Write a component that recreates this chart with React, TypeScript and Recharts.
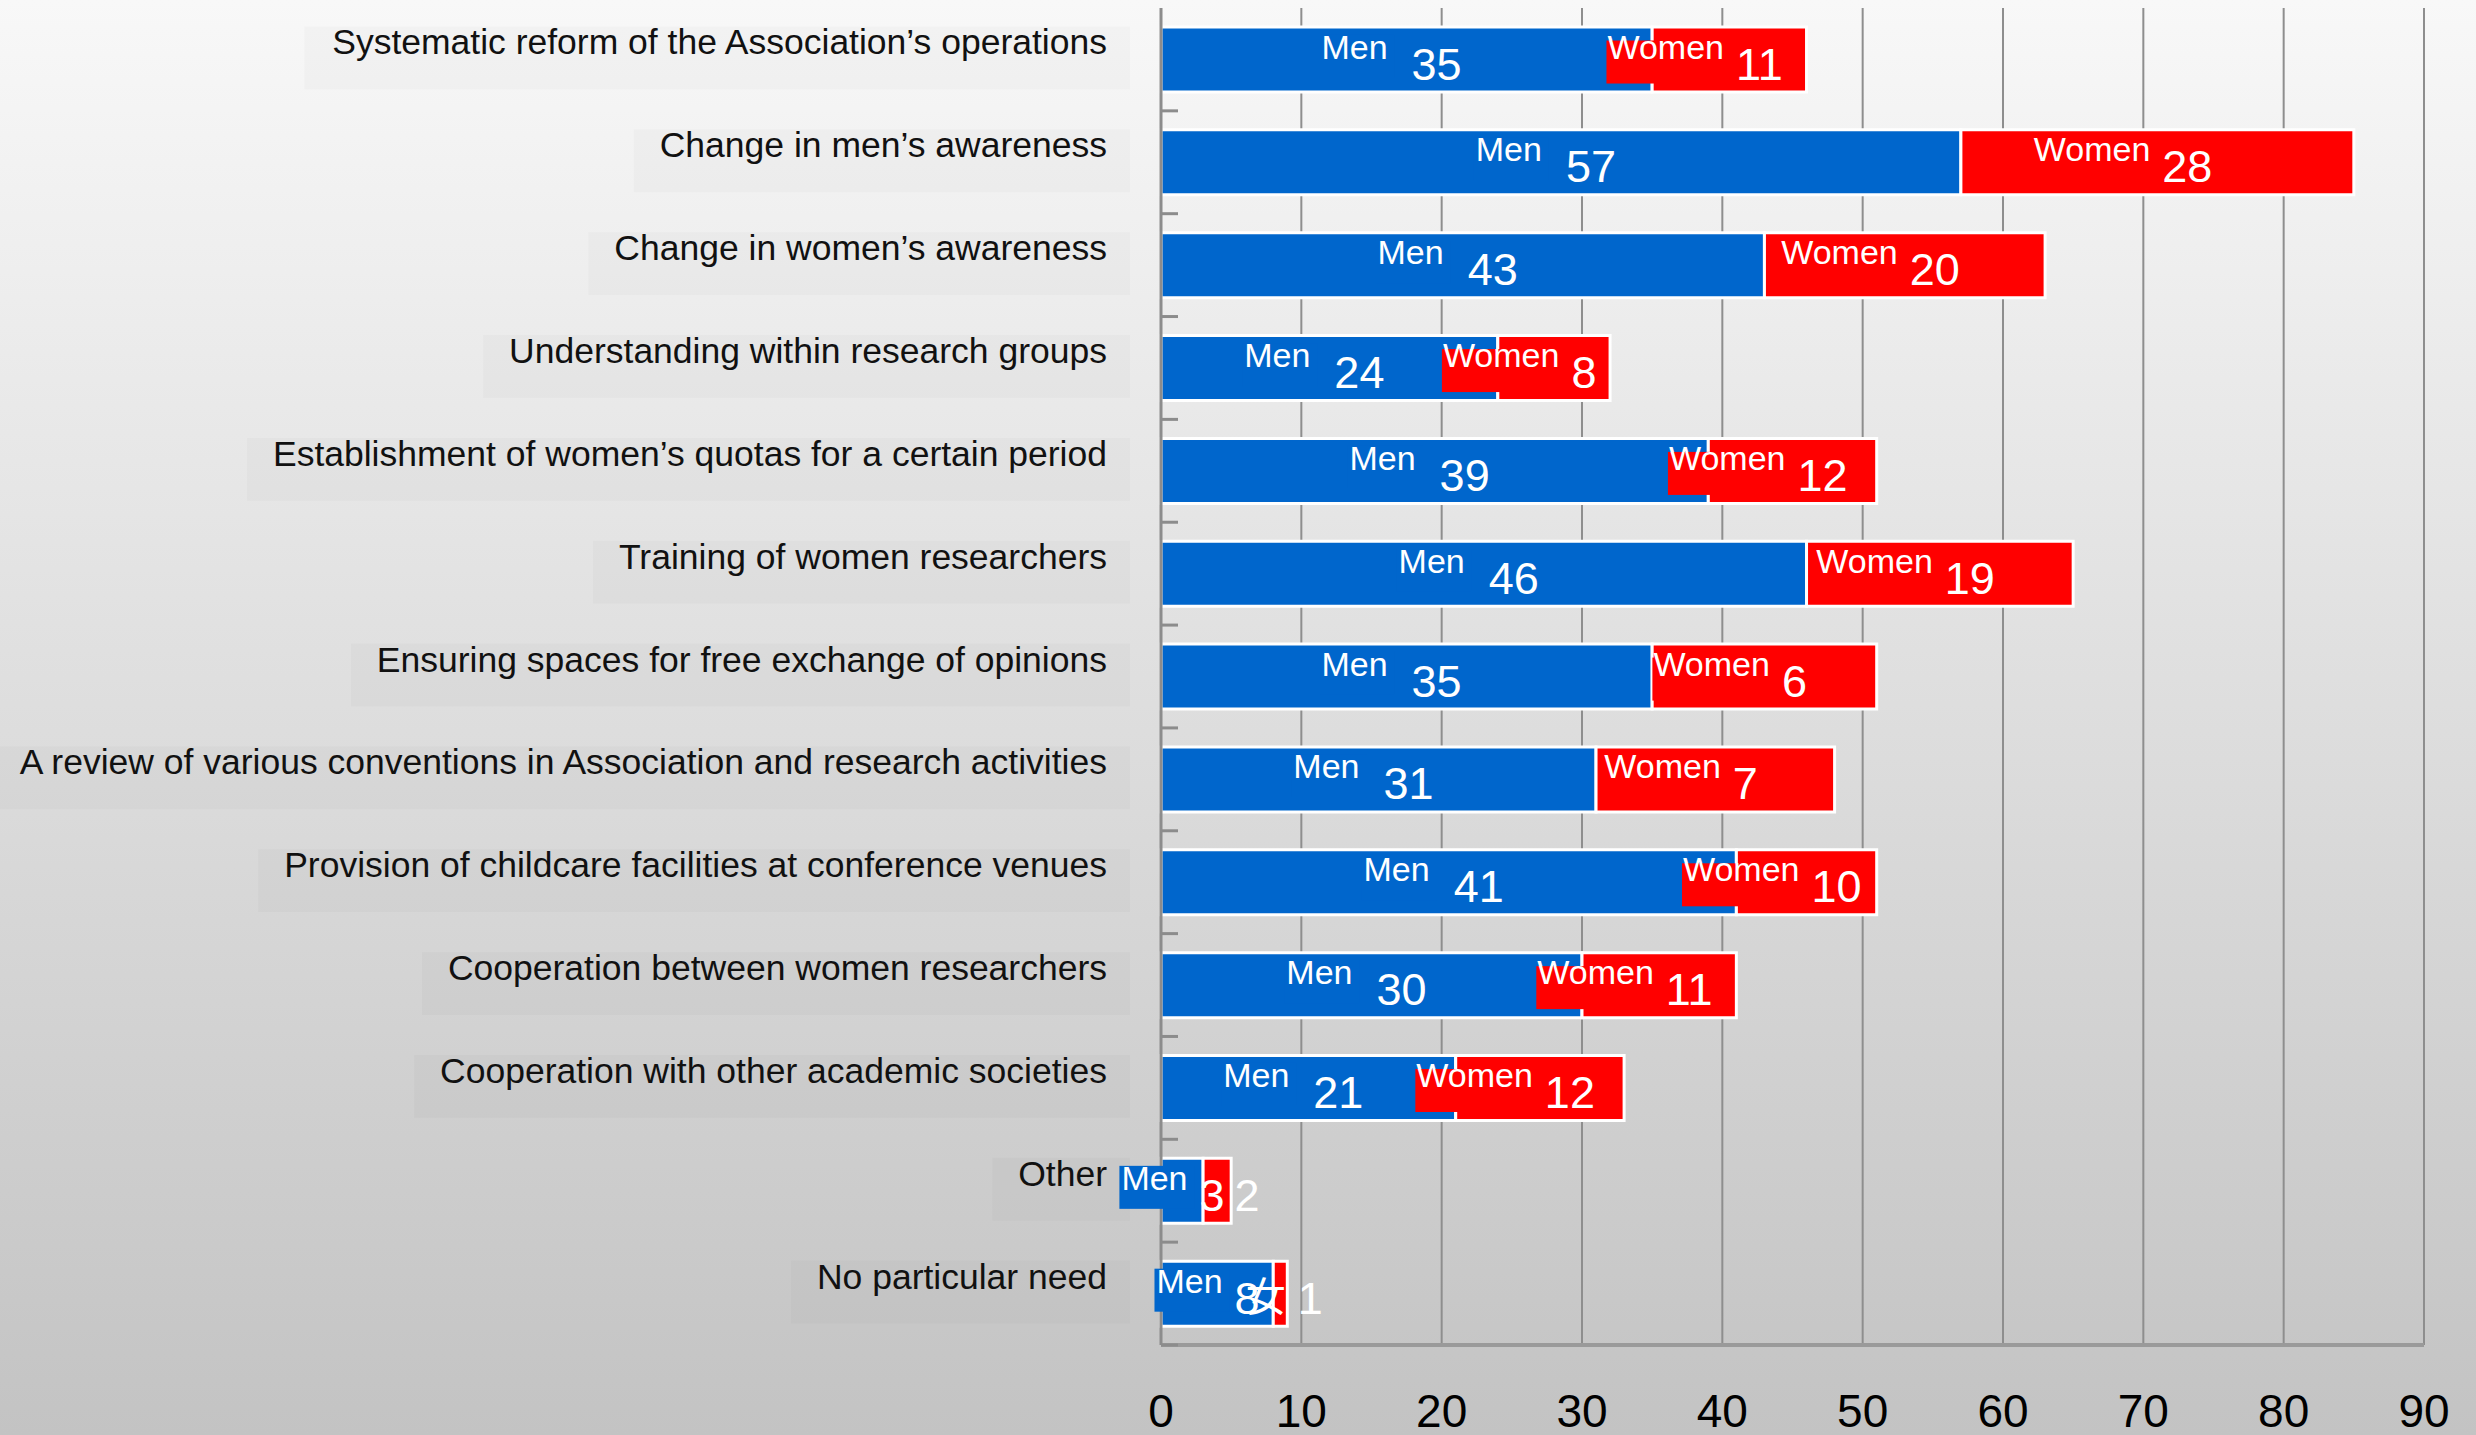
import React from "react"
import {
  BarChart, Bar, XAxis, YAxis, CartesianGrid, LabelList
} from "recharts"

const categories = [
  "Systematic reform of the Association\u2019s operations",
  "Change in men\u2019s awareness",
  "Change in women\u2019s awareness",
  "Understanding within research groups",
  "Establishment of women\u2019s quotas for a certain period",
  "Training of women researchers",
  "Ensuring spaces for free exchange of opinions",
  "A review of various conventions in Association and research activities",
  "Provision of childcare facilities at conference venues",
  "Cooperation between women researchers",
  "Cooperation with other academic societies",
  "Other",
  "No particular need",
]
const menValues = [35, 57, 43, 24, 39, 46, 35, 31, 41, 30, 21, 3, 8]
const womenValues = [11, 28, 20, 8, 12, 19, 16, 17, 10, 11, 12, 2, 1]
// the women labels as they read in the picture (some digits are hidden)
const womenShown = ["11", "28", "20", "8", "12", "19", "6", "7", "10", "11", "12", "2", "1"]
const menWord = "Men"
const womenWords = [
  "Women", "Women", "Women", "Women", "Women", "Women", "Women",
  "Women", "Women", "Women", "Women", "", "\u5973",
]
const xTicks = [0, 10, 20, 30, 40, 50, 60, 70, 80, 90]

const W = 2476
const H = 1435
const MARGIN = { top: 8, right: 52, bottom: 0, left: 0 }
const Y_AXIS_W = 1161
const X_AXIS_H = 90
const BAND = (H - MARGIN.top - MARGIN.bottom - X_AXIS_H) / categories.length
const FONT = '"Liberation Sans", Arial, Helvetica, sans-serif'
const CJK = '"Noto Sans CJK JP", sans-serif'

const data = categories.map((name, i) => ({
  name,
  men: menValues[i],
  women: womenValues[i],
}))

let ctx: CanvasRenderingContext2D | null = null
function textWidth(s: string, size: number, family = FONT) {
  if (!ctx) ctx = document.createElement("canvas").getContext("2d")
  if (!ctx) return s.length * size * 0.55
  ctx.font = `${size}px ${family}`
  return ctx.measureText(s).width
}

function CategoryTick(props: any) {
  const { y, payload } = props
  const label = String(payload.value)
  const end = Y_AXIS_W - 54
  const tw = textWidth(label, 35.5)
  return (
    <g>
      <rect
        x={end - tw - 26}
        y={y - 33}
        width={tw + 26 + 23}
        height={63}
        fill="rgba(0,0,0,0.02)"
      />
      <text x={end} y={y - 5} textAnchor="end" fontFamily={FONT} fontSize={35.5} fill="#111">
        {label}
      </text>
      <line
        x1={Y_AXIS_W}
        x2={Y_AXIS_W + 17}
        y1={y + BAND / 2}
        y2={y + BAND / 2}
        stroke="#8c8c8c"
        strokeWidth={3}
      />
    </g>
  )
}

function ValueTick(props: any) {
  const { x, y, payload } = props
  return (
    <text x={x} y={y + 82} textAnchor="middle" fontFamily={FONT} fontSize={46} fill="#000">
      {payload.value}
    </text>
  )
}

// draws the labels of both segments, on top of both bars
function renderLabels(props: any) {
  const vb = props.viewBox ?? props
  const x = Number(vb.x)
  const y = Number(vb.y)
  const w = Number(vb.width)
  const h = Number(vb.height)
  const i = props.index as number
  const ppu = w / womenValues[i]
  const mw = menValues[i] * ppu
  const mx = x - mw
  const cy = y + h / 2

  const menNum = String(menValues[i])
  const menNumX = mx + mw / 2 + 30
  const menNumW = textWidth(menNum, 45)
  const menEnd = menNumX - menNumW / 2 - (menNum.length > 1 ? 24 : 12)
  const menWordW = textWidth(menWord, 34)

  const wNum = womenShown[i]
  const wNumX = x + w / 2 + 30
  const wNumW = textWidth(wNum, 45)
  const wWord = womenWords[i]
  const wEnd = wNumX - wNumW / 2 - 12
  const latin = wWord === "Women"
  const wWordW = latin ? textWidth(wWord, 34) : textWidth(wWord, 40, CJK)

  return (
    <g>
      <rect x={menEnd - menWordW - 2} y={cy - 25} width={menWordW + 9} height={43} fill="#0066cc" />
      <text x={menEnd} y={cy - 1} textAnchor="end" fontFamily={FONT} fontSize={34} fill="#fff">
        {menWord}
      </text>
      <text x={menNumX} y={cy + 20} textAnchor="middle" fontFamily={FONT} fontSize={45} fill="#fff">
        {menNum}
      </text>
      {latin && (
        <rect x={wEnd - wWordW - 1} y={cy - 19} width={wWordW + 6} height={43} fill="#ff0000" />
      )}
      {wWord && (
        <text
          x={wEnd}
          y={latin ? cy - 1 : cy + 17}
          textAnchor="end"
          fontFamily={latin ? FONT : CJK}
          fontSize={latin ? 34 : 40}
          fill="#fff"
        >
          {wWord}
        </text>
      )}
      <text x={wNumX} y={cy + 20} textAnchor="middle" fontFamily={FONT} fontSize={45} fill="#fff">
        {wNum}
      </text>
    </g>
  )
}

export default function App() {
  return (
    <div
      style={{
        position: "absolute",
        left: 0,
        top: 0,
        width: W,
        height: H,
        background: "linear-gradient(#f8f8f8, #c3c3c3)",
        fontFamily: FONT,
      }}
    >
      <BarChart
        width={W}
        height={H}
        data={data}
        layout="vertical"
        margin={MARGIN}
        barCategoryGap="18.5%"
      >
        <CartesianGrid vertical horizontal={false} stroke="#8e8e8e" strokeWidth={2} />
        <XAxis
          type="number"
          domain={[0, 90]}
          ticks={xTicks}
          interval={0}
          height={X_AXIS_H}
          tickLine={false}
          tickSize={0}
          tickMargin={0}
          axisLine={{ stroke: "#9a9a9a", strokeWidth: 4 }}
          tick={(p: any) => <ValueTick {...p} />}
        />
        <XAxis
          xAxisId="top"
          orientation="top"
          type="number"
          domain={[0, 90]}
          height={0}
          tick={false}
          tickLine={false}
          axisLine={{ stroke: "#8e8e8e", strokeWidth: 3 }}
        />
        <YAxis
          type="category"
          dataKey="name"
          width={Y_AXIS_W}
          interval={0}
          tickLine={false}
          axisLine={{ stroke: "#8c8c8c", strokeWidth: 3 }}
          tick={(p: any) => <CategoryTick {...p} />}
        />
        <Bar dataKey="men" stackId="s" fill="#0066cc" stroke="#ffffff" strokeWidth={3} isAnimationActive={false} />
        <Bar dataKey="women" stackId="s" fill="#ff0000" stroke="#ffffff" strokeWidth={3} isAnimationActive={false}>
          <LabelList dataKey="women" content={renderLabels} />
        </Bar>
      </BarChart>
    </div>
  )
}
